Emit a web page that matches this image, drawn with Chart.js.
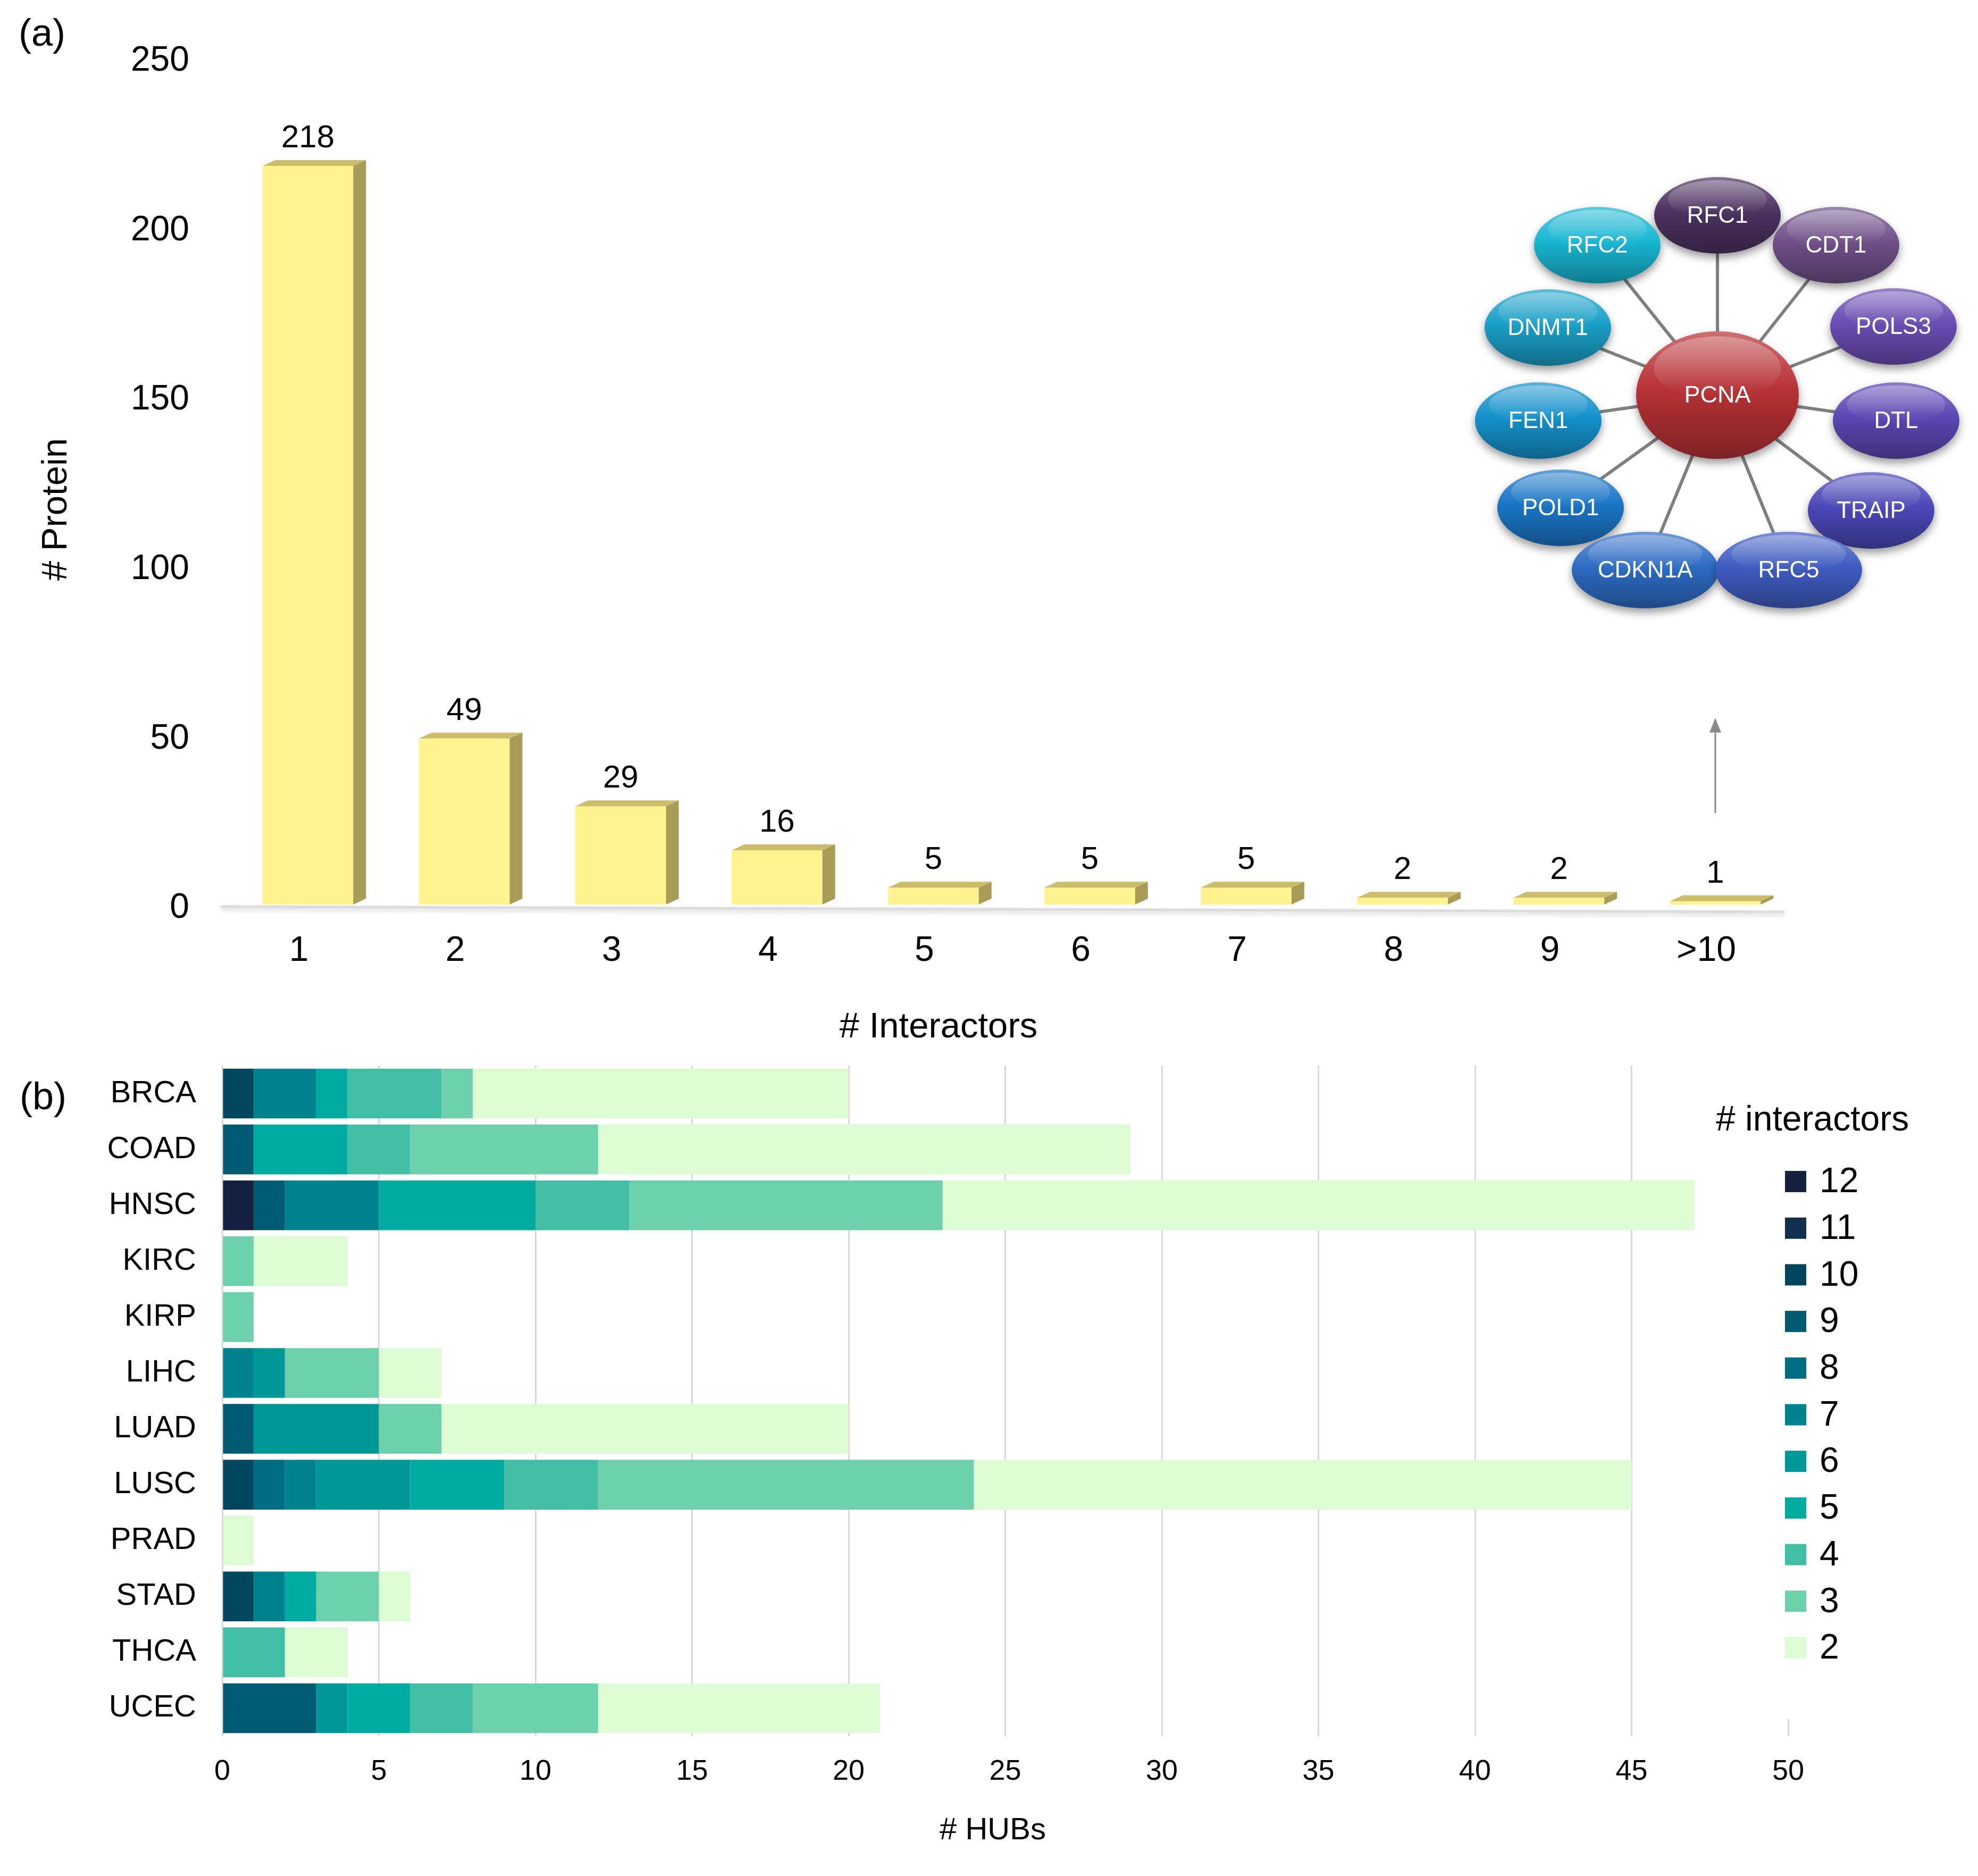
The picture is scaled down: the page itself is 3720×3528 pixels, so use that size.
<!DOCTYPE html>
<html>
<head>
<meta charset="utf-8">
<script src="https://cdn.jsdelivr.net/npm/chart.js@4.4.1/dist/chart.umd.min.js"></script>
<style>
    html, body { margin: 0; padding: 0; background: #fff; }
    #page { position: relative; width: 3720px; height: 3528px; background: #fff; }
    canvas { position: absolute; }
</style>
</head>
<body>
<div id="page">
    <canvas id="protChart" width="3720" height="1990" style="left:0;top:0"></canvas>
    <canvas id="netChart" width="980" height="920" style="left:2740px;top:283px"></canvas>
    <canvas id="hubChart" width="3720" height="1538" style="left:0;top:1990px"></canvas>
</div>
<script>
    const FONT = "'Liberation Sans', Arial, sans-serif";

    /** (a) proteins per number of interactors **/
    const interactorBins = ['1', '2', '3', '4', '5', '6', '7', '8', '9', '>10'];
    const proteinCounts = [218, 49, 29, 16, 5, 5, 5, 2, 2, 1];
    const proteinTicks = [0, 50, 100, 150, 200, 250];
    const arrowSpan = [27, 55];   // # Protein values the arrow over ">10" runs between

    /** inset network around PCNA (offsets, y up) **/
    const hubName = 'PCNA';
    const partnerNames = ['RFC1', 'CDT1', 'RFC2', 'POLS3', 'DNMT1', 'DTL', 'FEN1', 'TRAIP', 'POLD1', 'CDKN1A', 'RFC5'];
    const partnerX = [0, 223, -226, 331, -319, 336, -337, 289, -295, -136, 134];
    const partnerY = [338, 282, 282, 129, 127, -48, -48, -217, -212, -329, -329];

    /** (b) HUBs per cancer type, split by # interactors **/
    const cancerTypes = ['BRCA', 'COAD', 'HNSC', 'KIRC', 'KIRP', 'LIHC', 'LUAD', 'LUSC', 'PRAD', 'STAD', 'THCA', 'UCEC'];
    const interactorClasses = ['12', '11', '10', '9', '8', '7', '6', '5', '4', '3', '2'];
    const hubs12 = [0, 0, 1, 0, 0, 0, 0, 0, 0, 0, 0, 0];
    const hubs11 = [0, 0, 0, 0, 0, 0, 0, 0, 0, 0, 0, 0];
    const hubs10 = [1, 0, 0, 0, 0, 0, 0, 1, 0, 1, 0, 0];
    const hubs9  = [0, 1, 1, 0, 0, 0, 1, 0, 0, 0, 0, 3];
    const hubs8  = [0, 0, 0, 0, 0, 0, 0, 1, 0, 0, 0, 0];
    const hubs7  = [2, 0, 3, 0, 0, 1, 0, 1, 0, 1, 0, 0];
    const hubs6  = [0, 0, 0, 0, 0, 1, 4, 3, 0, 0, 0, 1];
    const hubs5  = [1, 3, 5, 0, 0, 0, 0, 3, 0, 1, 0, 2];
    const hubs4  = [3, 2, 3, 0, 0, 0, 0, 3, 0, 0, 2, 2];
    const hubs3  = [1, 6, 10, 1, 1, 3, 2, 12, 0, 2, 0, 4];
    const hubs2  = [12, 17, 24, 3, 0, 2, 13, 21, 1, 1, 2, 9];
    const hubTicks = [0, 5, 10, 15, 20, 25, 30, 35, 40, 45, 50];

    const hubSeries = [hubs12, hubs11, hubs10, hubs9, hubs8, hubs7, hubs6, hubs5, hubs4, hubs3, hubs2];
    const classColors = ['#16213f', '#10304f', '#00465f', '#005a72', '#006d82', '#00838f',
                         '#009897', '#00ab9f', '#42bea5', '#6dd0ad', '#defcd4'];

    const barFront = '#fff38f';
    const barTop = '#cbbd6b';
    const barSide = '#a89c57';
    const depth = {dx: 24, dy: 11};

    const partnerColors = ['#4b3260', '#6f5088', '#18b6d2', '#6b4db3', '#1aa0c8', '#5b47b3',
                           '#1491cb', '#4a48b8', '#1a76c6', '#2e6cc4', '#3f5cc2'];
    const hubColor = '#b83236';

    function drawText(ctx, text, x, y, size, rotate)
    {
        ctx.save();
        ctx.fillStyle = '#000';
        ctx.font = `${size}px ${FONT}`;
        ctx.textAlign = 'center';
        ctx.textBaseline = 'middle';
        ctx.translate(x, y);
        if (rotate) ctx.rotate(-Math.PI / 2);
        ctx.fillText(text, 0, 0);
        ctx.restore();
    }

    function panelLetter(ctx, text, x, y)
    {
        ctx.save();
        ctx.fillStyle = '#000';
        ctx.font = `72px ${FONT}`;
        ctx.textAlign = 'left';
        ctx.textBaseline = 'middle';
        ctx.fillText(text, x, y);
        ctx.restore();
    }

    function noEdgePadding(scale)
    {
        scale.paddingTop = 0;
        scale.paddingBottom = 0;
    }

    /** 3D look for the yellow bars, value labels, floor and arrow **/
    const bars3d = {
        id: 'bars3d',
        beforeDatasetsDraw(chart) {
            const {ctx, chartArea} = chart;
            const y0 = chart.scales.y.getPixelForValue(0);
            ctx.save();
            ctx.shadowColor = 'rgba(0,0,0,0.18)';
            ctx.shadowBlur = 8;
            ctx.shadowOffsetY = 4;
            ctx.strokeStyle = '#dcdcdc';
            ctx.lineWidth = 5;
            ctx.beginPath();
            ctx.moveTo(chartArea.left - 17, y0 + 4);
            ctx.lineTo(chartArea.right - 17, y0 + 14);
            ctx.stroke();
            ctx.restore();
        },
        afterDatasetsDraw(chart) {
            const ctx = chart.ctx;
            const {dx, dy} = depth;
            ctx.save();
            chart.getDatasetMeta(0).data.forEach((bar, i) => {
                const {x, y, base, width} = bar.getProps(['x', 'y', 'base', 'width'], true);
                const l = x - width / 2, r = x + width / 2;
                ctx.fillStyle = barTop;
                ctx.beginPath();
                ctx.moveTo(l, y); ctx.lineTo(l + dx, y - dy); ctx.lineTo(r + dx, y - dy); ctx.lineTo(r, y);
                ctx.closePath(); ctx.fill();
                ctx.fillStyle = barSide;
                ctx.beginPath();
                ctx.moveTo(r, y); ctx.lineTo(r + dx, y - dy); ctx.lineTo(r + dx, base - dy); ctx.lineTo(r, base);
                ctx.closePath(); ctx.fill();

                ctx.fillStyle = '#000';
                ctx.font = `60px ${FONT}`;
                ctx.textAlign = 'center';
                ctx.textBaseline = 'alphabetic';
                ctx.fillText(String(proteinCounts[i]), x, y - dy - 24);
            });

            // arrow from the ">10" bar up to the network
            const ax = chart.scales.x.getPixelForValue(interactorBins.length - 1);
            const yLow = chart.scales.y.getPixelForValue(arrowSpan[0]);
            const yHigh = chart.scales.y.getPixelForValue(arrowSpan[1]);
            ctx.strokeStyle = '#8a8a8a';
            ctx.fillStyle = '#8a8a8a';
            ctx.lineWidth = 3;
            ctx.beginPath();
            ctx.moveTo(ax, yLow); ctx.lineTo(ax, yHigh + 20);
            ctx.stroke();
            ctx.beginPath();
            ctx.moveTo(ax, yHigh); ctx.lineTo(ax - 11, yHigh + 27); ctx.lineTo(ax + 11, yHigh + 27);
            ctx.closePath(); ctx.fill();
            ctx.restore();
        },
        afterDraw(chart) {
            panelLetter(chart.ctx, '(a)', 35, 66);
            drawText(chart.ctx, '# Protein', 107, 958, 67, true);
            drawText(chart.ctx, '# Interactors', 1765, 1933, 67, false);
        }
    };

    new Chart(document.getElementById('protChart'), {
        type: 'bar',
        data: {
            labels: interactorBins,
            datasets: [{
                data: proteinCounts,
                backgroundColor: barFront,
                borderWidth: 0,
                barPercentage: 0.58,
                categoryPercentage: 1.0
            }]
        },
        options: {
            responsive: false,
            devicePixelRatio: 1,
            animation: false,
            layout: {padding: {left: 0, right: 347, top: 108, bottom: 0}},
            plugins: {legend: {display: false}, tooltip: {enabled: false}},
            scales: {
                x: {
                    grid: {display: false, drawTicks: false},
                    border: {display: false},
                    ticks: {font: {size: 66, family: FONT}, color: '#000', padding: 48, labelOffset: -17},
                    afterFit(scale) { scale.height = 289; }
                },
                y: {
                    min: 0,
                    max: 250,
                    afterBuildTicks(scale) { scale.ticks = proteinTicks.map(v => ({value: v})); },
                    grid: {display: false, drawTicks: false},
                    border: {display: false},
                    ticks: {font: {size: 66, family: FONT}, color: '#000', padding: 76, labelOffset: 7},
                    afterFit(scale) { scale.width = 432; noEdgePadding(scale); }
                }
            }
        },
        plugins: [bars3d]
    });

    /** inset network **/
    function shade(hex, amt)
    {
        const n = parseInt(hex.slice(1), 16);
        let r = (n >> 16) & 255, g = (n >> 8) & 255, b = n & 255;
        const t = amt > 0 ? 255 : 0, p = Math.abs(amt);
        r = Math.round(r + (t - r) * p); g = Math.round(g + (t - g) * p); b = Math.round(b + (t - b) * p);
        return `rgb(${r},${g},${b})`;
    }

    function glossyEllipse(ctx, cx, cy, rx, ry, color, label, fontPx)
    {
        ctx.save();
        ctx.shadowColor = 'rgba(0,0,0,0.4)';
        ctx.shadowBlur = 16;
        ctx.shadowOffsetY = 8;
        const g = ctx.createLinearGradient(0, cy - ry, 0, cy + ry);
        g.addColorStop(0, shade(color, 0.3));
        g.addColorStop(0.45, color);
        g.addColorStop(1, shade(color, -0.32));
        ctx.beginPath();
        ctx.ellipse(cx, cy, rx, ry, 0, 0, Math.PI * 2);
        ctx.fillStyle = g;
        ctx.fill();
        ctx.restore();

        ctx.save();
        ctx.beginPath();
        ctx.ellipse(cx, cy - ry * 0.42, rx * 0.78, ry * 0.5, 0, 0, Math.PI * 2);
        const h = ctx.createLinearGradient(0, cy - ry * 0.92, 0, cy);
        h.addColorStop(0, 'rgba(255,255,255,0.30)');
        h.addColorStop(1, 'rgba(255,255,255,0)');
        ctx.fillStyle = h;
        ctx.fill();
        ctx.fillStyle = '#fff';
        ctx.font = `${fontPx}px ${FONT}`;
        ctx.textAlign = 'center';
        ctx.textBaseline = 'middle';
        ctx.fillText(label, cx, cy + 2);
        ctx.restore();
    }

    const nodePlugin = {
        id: 'nodes',
        afterDatasetsDraw(chart) {
            const ctx = chart.ctx;
            const points = chart.getDatasetMeta(partnerNames.length).data;
            const hub = chart.getDatasetMeta(partnerNames.length + 1).data[0];
            glossyEllipse(ctx, hub.x, hub.y, 153, 120, hubColor, hubName, 45);
            points.forEach((pt, i) => {
                const wide = partnerNames[i] === 'CDKN1A' || partnerNames[i] === 'RFC5';
                glossyEllipse(ctx, pt.x, pt.y, wide ? 138 : 119, 72, partnerColors[i], partnerNames[i], 44);
            });
        }
    };

    const edgeSets = partnerNames.map((name, i) => ({
        type: 'scatter',
        data: [{x: 0, y: 0}, {x: partnerX[i], y: partnerY[i]}],
        showLine: true,
        borderColor: '#7f7f7f',
        borderWidth: 6,
        pointRadius: 0
    }));

    new Chart(document.getElementById('netChart'), {
        type: 'scatter',
        data: {
            datasets: [
                ...edgeSets,
                {data: partnerX.map((x, i) => ({x: x, y: partnerY[i]})), pointRadius: 0},
                {data: [{x: 0, y: 0}], pointRadius: 0}
            ]
        },
        options: {
            responsive: false,
            devicePixelRatio: 1,
            animation: false,
            layout: {padding: 0},
            plugins: {legend: {display: false}, tooltip: {enabled: false}},
            scales: {
                x: {type: 'linear', min: -490, max: 490, display: false},
                y: {type: 'linear', min: -460, max: 460, display: false}
            }
        },
        plugins: [nodePlugin]
    });

    /** legend for (b), drawn over the plot like in the figure **/
    const hubLegend = {
        id: 'hubLegend',
        afterDraw(chart) {
            const ctx = chart.ctx;
            ctx.save();
            ctx.fillStyle = '#fff';
            ctx.fillRect(3215, chart.chartArea.top - 4, 505, 1243 - chart.chartArea.top + 4);
            ctx.fillStyle = '#000';
            ctx.font = `66px ${FONT}`;
            ctx.textAlign = 'left';
            ctx.textBaseline = 'middle';
            ctx.fillText('# interactors', 3227, 118);
            chart.data.datasets.forEach((ds, i) => {
                const cy = 232 + i * 87.7;
                ctx.fillStyle = ds.backgroundColor;
                ctx.fillRect(3357, cy - 20, 40, 40);
                ctx.fillStyle = '#000';
                ctx.fillText(ds.label, 3422, cy + 2);
            });
            ctx.restore();
            panelLetter(ctx, '(b)', 37, 76);
            drawText(ctx, '# HUBs', 1867, 1453, 58, false);
        }
    };

    new Chart(document.getElementById('hubChart'), {
        type: 'bar',
        data: {
            labels: cancerTypes,
            datasets: interactorClasses.map((c, i) => ({
                label: c,
                data: hubSeries[i],
                backgroundColor: classColors[i],
                borderWidth: 0,
                barPercentage: 0.89,
                categoryPercentage: 1.0
            }))
        },
        options: {
            indexAxis: 'y',
            responsive: false,
            devicePixelRatio: 1,
            animation: false,
            layout: {padding: {left: 0, right: 357, top: 14, bottom: 0}},
            plugins: {legend: {display: false}, tooltip: {enabled: false}},
            scales: {
                x: {
                    stacked: true,
                    min: 0,
                    max: 50,
                    afterBuildTicks(scale) { scale.ticks = hubTicks.map(v => ({value: v})); },
                    grid: {color: '#d9d9d9', lineWidth: 3, drawTicks: false},
                    border: {display: false},
                    ticks: {font: {size: 54, family: FONT}, color: '#000', padding: 35},
                    afterFit(scale) { scale.height = 263; }
                },
                y: {
                    stacked: true,
                    grid: {display: false, drawTicks: false},
                    border: {display: false},
                    ticks: {font: {size: 58, family: FONT}, color: '#000', padding: 49},
                    afterFit(scale) { scale.width = 418; noEdgePadding(scale); }
                }
            }
        },
        plugins: [hubLegend]
    });
</script>
</body>
</html>
